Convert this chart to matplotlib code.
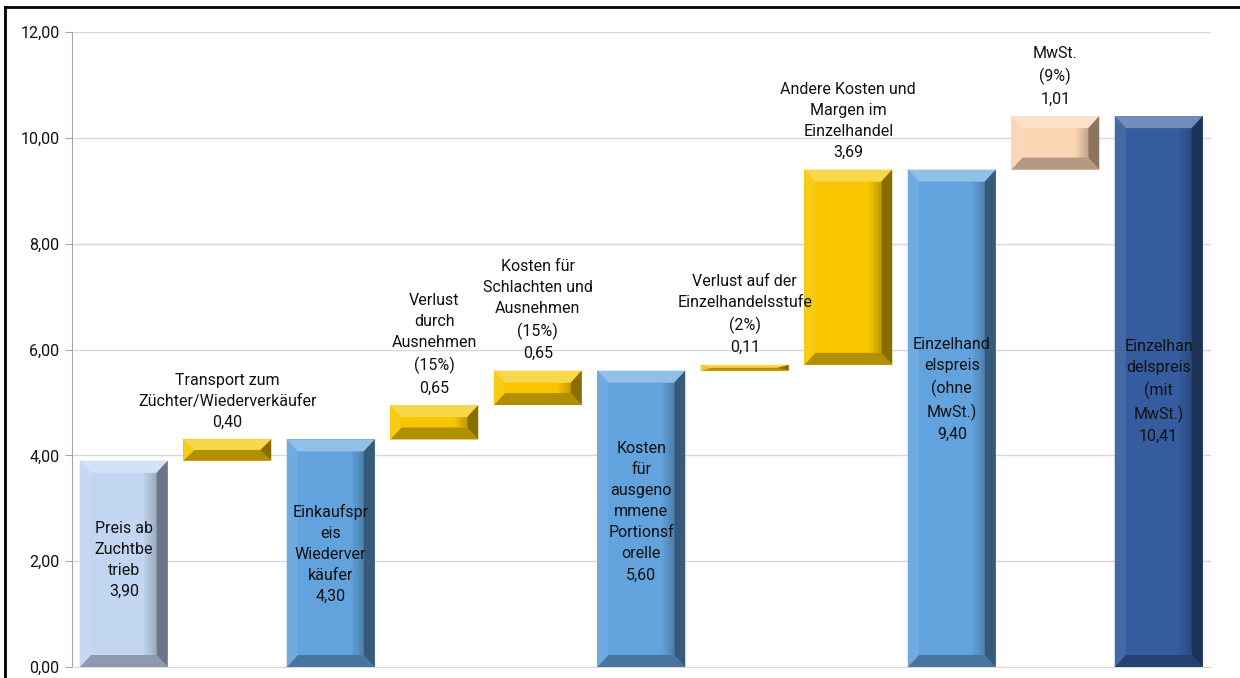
import matplotlib
matplotlib.use("Agg")
import matplotlib.pyplot as plt
from matplotlib.patches import Polygon
from matplotlib.lines import Line2D
from matplotlib.colors import to_rgb
import numpy as np

# Price build-up of a portion trout (EUR/kg)
labels = [
    "Preis ab\nZuchtbe\ntrieb",
    "Transport zum\nZüchter/Wiederverkäufer",
    "Einkaufspr\neis\nWiederver\nkäufer",
    "Verlust\ndurch\nAusnehmen\n(15%)",
    "Kosten für\nSchlachten und\nAusnehmen\n(15%)",
    "Kosten\nfür\nausgeno\nmmene\nPortionsf\norelle",
    "Verlust auf der\nEinzelhandelsstufe\n(2%)",
    "Andere Kosten und\nMargen im\nEinzelhandel",
    "Einzelhand\nelspreis\n(ohne\nMwSt.)",
    "MwSt.\n(9%)",
    "Einzelhan\ndelspreis\n(mit\nMwSt.)",
]
values = [3.90, 0.40, 4.30, 0.65, 0.65, 5.60, 0.11, 3.69, 9.40, 1.01, 10.41]
is_total = [True, False, True, False, False, True, False, False, True, False, True]
y_ticks = [0, 2, 4, 6, 8, 10, 12]

colors = ["#C2D5F1", "#F7C600", "#62A3DE", "#F7C600", "#F7C600", "#62A3DE",
          "#F7C600", "#F7C600", "#62A3DE", "#FBD4B4", "#355C9F"]
# vertical centre of the text inside each total bar
inside_text_y = {0: 2.02, 2: 2.14, 5: 2.93, 8: 5.24, 10: 5.2}

FS = 11.5
LS = 1.5

plt.rcParams["font.family"] = ["Roboto", "DejaVu Sans"]

fig = plt.figure(figsize=(12.4, 6.78), dpi=100)
ax = fig.add_axes([72 / 1240, 1 - 667 / 678, (1210.5 - 72) / 1240, 635 / 678])

# bottoms of each bar: totals start at zero, steps start where the running total is
bottoms = []
running = 0.0
for v, tot in zip(values, is_total):
    if tot:
        bottoms.append(0.0)
        running = v
    else:
        bottoms.append(running)
        running += v

x = np.arange(len(values))
width = 0.85
ax.set_xlim(-0.5, len(values) - 0.5)
ax.set_ylim(0, 12)

bars = ax.bar(x, values, width=width, bottom=bottoms, color=colors,
              edgecolor="none", zorder=2)


def blend(c, target, f):
    c = np.array(to_rgb(c))
    t = np.array(to_rgb(target))
    return tuple(c * (1 - f) + t * f)


# bevel depth expressed in data units (about 12 px each way)
px_x = (1210.5 - 72) / len(values)
px_y = 635 / 12
bev_x = 11 / px_x
bev_y = 12 / px_y

for rect, c in zip(bars, colors):
    x0 = rect.get_x()
    x1 = x0 + rect.get_width()
    y0 = rect.get_y()
    y1 = y0 + rect.get_height()
    by = min(bev_y, (y1 - y0) / 2)
    bx = bev_x
    faces = [
        ([(x0, y1), (x1, y1), (x1 - bx, y1 - by), (x0 + bx, y1 - by)], blend(c, "white", 0.3)),
        ([(x0, y0), (x1, y0), (x1 - bx, y0 + by), (x0 + bx, y0 + by)], blend(c, "black", 0.28)),
        ([(x0, y0), (x0, y1), (x0 + bx, y1 - by), (x0 + bx, y0 + by)], blend(c, "white", 0.08)),
        ([(x1, y0), (x1, y1), (x1 - bx, y1 - by), (x1 - bx, y0 + by)], blend(c, "black", 0.45)),
    ]
    for pts, fc in faces:
        ax.add_patch(Polygon(pts, closed=True, facecolor=fc, edgecolor="none", zorder=3))
    # soft shading towards the right edge of the front face
    n = 6
    fx0 = x1 - bx - 0.12
    for k in range(n):
        xa = fx0 + k * 0.12 / n
        ax.add_patch(Polygon([(xa, y0 + by), (xa + 0.12 / n, y0 + by),
                              (xa + 0.12 / n, y1 - by), (xa, y1 - by)],
                             closed=True, facecolor=blend(c, "black", 0.03 + 0.035 * k),
                             edgecolor="none", zorder=2.5))


def fmt(v):
    return f"{v:.2f}".replace(".", ",")


for i, (v, b, lab, tot) in enumerate(zip(values, bottoms, labels, is_total)):
    txt = f"{lab}\n{fmt(v)}"
    if tot:
        ax.text(i, inside_text_y[i], txt, ha="center", va="center", fontsize=FS,
                linespacing=LS, color="#111111", zorder=5)
    else:
        ax.annotate(txt, (i, b + v), xytext=(0, 7), textcoords="offset points",
                    ha="center", va="bottom", fontsize=FS, linespacing=LS,
                    color="#111111", zorder=5)

# axes styling
ax.set_yticks(y_ticks)
ax.set_yticklabels([fmt(t) for t in y_ticks], fontsize=FS)
ax.set_xticks([])
ax.grid(axis="y", color="#D9D9D9", linewidth=1, zorder=0)
ax.set_axisbelow(True)
for s in ["top", "right"]:
    ax.spines[s].set_visible(False)
ax.spines["left"].set_color("#A6A6A6")
ax.spines["bottom"].set_color("#D9D9D9")
ax.tick_params(axis="y", length=5, color="#A6A6A6", pad=4, labelcolor="#111111")

# outer frame (left and top edges)
fig.add_artist(Line2D([5 / 1240, 5 / 1240], [0, 1 - 7 / 678], transform=fig.transFigure,
                      color="black", linewidth=2))
fig.add_artist(Line2D([5 / 1240, 1], [1 - 7 / 678, 1 - 7 / 678], transform=fig.transFigure,
                      color="black", linewidth=2))

fig.savefig("out.png", dpi=100)
